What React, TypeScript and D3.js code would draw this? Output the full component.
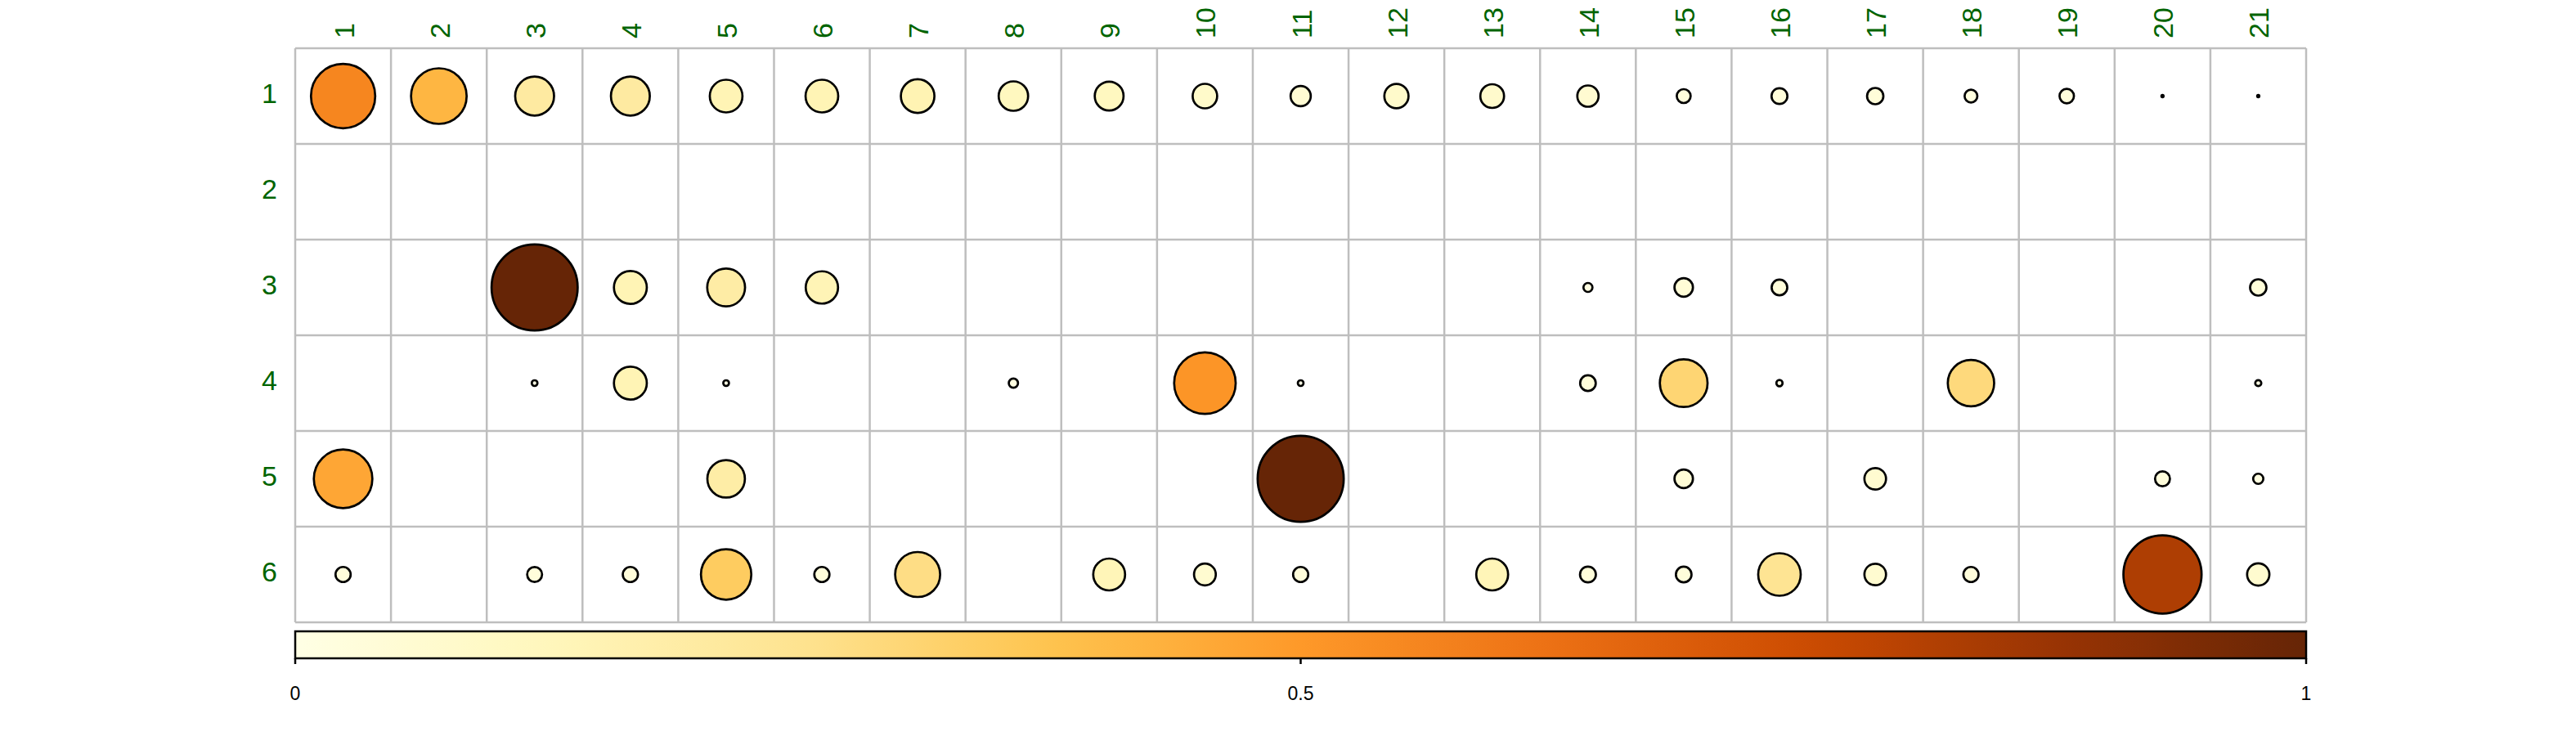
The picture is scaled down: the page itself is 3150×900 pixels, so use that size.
import * as d3 from "d3";

// Row and column labels
const rowLabels = ["1", "2", "3", "4", "5", "6"];
const colLabels = Array.from({ length: 21 }, (_, i) => String(i + 1));

// Cell values (null = empty cell)
const row1 = [0.557, 0.417, 0.204, 0.204, 0.144, 0.144, 0.152, 0.117, 0.112, 0.081, 0.055, 0.079, 0.076, 0.061, 0.026, 0.034, 0.036, 0.022, 0.028, 0.0006, 0.0006];
const row2 = [null, null, null, null, null, null, null, null, null, null, null, null, null, null, null, null, null, null, null, null, null];
const row3 = [null, null, 1.0, 0.146, 0.193, 0.141, null, null, null, null, null, null, null, 0.011, 0.046, 0.033, null, null, null, null, 0.036];
const row4 = [null, null, 0.0044, 0.146, 0.0044, null, null, 0.0115, null, 0.511, 0.0044, null, null, 0.033, 0.307, 0.0052, null, 0.29, null, null, 0.005];
const row5 = [0.462, null, null, null, 0.19, null, null, null, null, null, 1.0, null, null, null, 0.046, null, 0.063, null, null, 0.03, 0.014];
const row6 = [0.031, null, 0.03, 0.031, 0.342, 0.031, 0.273, null, 0.137, 0.064, 0.031, null, 0.137, 0.034, 0.033, 0.244, 0.063, 0.031, null, 0.824, 0.067];

const rows = [row1, row2, row3, row4, row5, row6];

// Colour legend ticks
const legendTicks = [0, 0.5, 1];
const legendTickLabels = ["0", "0.5", "1"];

const App = () => {
  const width = 3150;
  const height = 900;
  const left = 361;
  const right = 2820;
  const top = 59;
  const bottom = 761;

  const x = d3.scaleBand<string>().domain(colLabels).range([left, right]);
  const y = d3.scaleBand<string>().domain(rowLabels).range([top, bottom]);
  const cell = Math.min(x.bandwidth(), y.bandwidth());

  const radius = d3.scaleSqrt().domain([0, 1]).range([0, 0.45 * cell]);
  const ylorbr = d3.schemeYlOrBr[9] as readonly string[];
  const color = d3
    .scaleLinear<string>()
    .domain(ylorbr.map((_, i) => i / (ylorbr.length - 1)))
    .range(ylorbr as string[])
    .interpolate(d3.interpolateRgb);

  const legendX = d3.scaleLinear().domain([0, 1]).range([left, right]);
  const barTop = 772;
  const barBottom = 805;

  const cells: { r: string; c: string; v: number }[] = [];
  rows.forEach((vals, ri) => {
    vals.forEach((v, ci) => {
      if (v !== null && v !== undefined) cells.push({ r: rowLabels[ri], c: colLabels[ci], v });
    });
  });

  const stops = d3.range(0, 1.0001, 0.02);
  const font = "'Liberation Sans', Arial, Helvetica, sans-serif";

  return (
    <svg
      width={width}
      height={height}
      style={{ position: "absolute", left: 0, top: 0, background: "#fff" }}
      fontFamily={font}
    >
      <defs>
        <linearGradient id="legendGrad" x1="0" x2="1" y1="0" y2="0">
          {stops.map((s) => (
            <stop key={s} offset={s} stopColor={color(s)} />
          ))}
        </linearGradient>
      </defs>

      {/* grid */}
      <g stroke="#bebebe" strokeWidth={2.5}>
        {d3.range(colLabels.length + 1).map((i) => {
          const xx = left + i * x.bandwidth();
          return <line key={"v" + i} x1={xx} x2={xx} y1={top} y2={bottom} />;
        })}
        {d3.range(rowLabels.length + 1).map((i) => {
          const yy = top + i * y.bandwidth();
          return <line key={"h" + i} x1={left} x2={right} y1={yy} y2={yy} />;
        })}
      </g>

      {/* circles */}
      <g stroke="#000" strokeWidth={2.7}>
        {cells.map((d) => (
          <circle
            key={d.r + "-" + d.c}
            cx={(x(d.c) ?? 0) + x.bandwidth() / 2}
            cy={(y(d.r) ?? 0) + y.bandwidth() / 2}
            r={radius(d.v)}
            fill={color(d.v)}
          />
        ))}
      </g>

      {/* row labels */}
      <g fill="#006400" fontSize={34} textAnchor="end">
        {rowLabels.map((r) => (
          <text key={r} x={339} y={(y(r) ?? 0) + y.bandwidth() / 2 + 8}>
            {r}
          </text>
        ))}
      </g>

      {/* column labels */}
      <g fill="#006400" fontSize={34}>
        {colLabels.map((c) => (
          <text
            key={c}
            transform={`translate(${(x(c) ?? 0) + x.bandwidth() / 2 + 13},47) rotate(-90)`}
            textAnchor="start"
          >
            {c}
          </text>
        ))}
      </g>

      {/* colour legend */}
      <rect
        x={left}
        y={barTop}
        width={right - left}
        height={barBottom - barTop}
        fill="url(#legendGrad)"
        stroke="#000"
        strokeWidth={2.5}
      />
      <g stroke="#000" strokeWidth={2.5}>
        {legendTicks.map((t) => (
          <line key={t} x1={legendX(t)} x2={legendX(t)} y1={barBottom} y2={812} />
        ))}
      </g>
      <g fontSize={23} textAnchor="middle" fill="#000">
        {legendTicks.map((t, i) => (
          <text key={t} x={legendX(t)} y={856}>
            {legendTickLabels[i]}
          </text>
        ))}
      </g>
    </svg>
  );
};

export default App;
